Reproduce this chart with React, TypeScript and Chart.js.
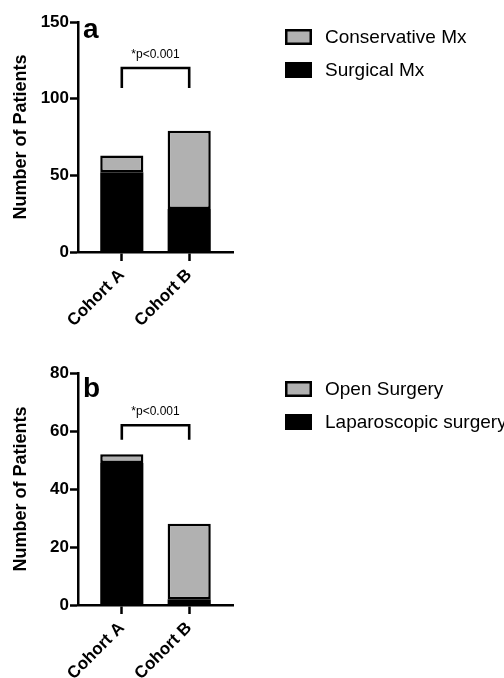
import React, { useEffect, useRef } from 'react';
import { Chart, registerables } from 'chart.js';

Chart.register(...registerables);

const FONT = 'Arial, "Liberation Sans", Helvetica, sans-serif';
const BLACK = '#000000';
const GRAY = '#b1b1b1';

// ---- data ----
const categories = ['Cohort A', 'Cohort B'];

// panel a
const surgicalMx = [52, 28];
const conservativeMx = [11, 51];
const yMaxA = 150;
const yStepA = 50;
const bracketA = [107, 120]; // [leg end, top]

// panel b
const laparoscopicSurgery = [49, 2];
const openSurgery = [3, 26];
const yMaxB = 80;
const yStepB = 20;
const bracketB = [57, 62];

const significanceLabel = '*p<0.001';
const yTitle = 'Number of Patients';

type PanelProps = {
  letter: string;
  bottomLabel: string;
  topLabel: string;
  bottomValues: number[];
  topValues: number[];
  yMax: number;
  yStep: number;
  bracket: number[];
  canvasHeight: number;
  padTop: number;
  xAxisHeight: number;
  letterDy: number;
  legendY: number;
  legendGap: number;
};

const decoPlugin = {
  id: 'panelDeco',
  afterDraw(chart: any, _args: any, opts: any) {
    const ctx = chart.ctx;
    const { left, top, right } = chart.chartArea;
    const xs = chart.scales.x;
    const ys = chart.scales.y;
    ctx.save();
    // panel letter
    ctx.fillStyle = BLACK;
    ctx.font = `bold 28px ${FONT}`;
    ctx.textAlign = 'left';
    ctx.textBaseline = 'alphabetic';
    ctx.fillText(opts.letter, left + 5, top + opts.letterDy);

    // significance bracket
    const x0 = xs.getPixelForValue(0);
    const x1 = xs.getPixelForValue(categories.length - 1);
    const yTop = ys.getPixelForValue(opts.bracket[1]);
    const yEnd = ys.getPixelForValue(opts.bracket[0]);
    ctx.lineWidth = 2.6;
    ctx.strokeStyle = BLACK;
    ctx.lineJoin = 'miter';
    ctx.lineCap = 'butt';
    ctx.beginPath();
    ctx.moveTo(x0, yEnd);
    ctx.lineTo(x0, yTop);
    ctx.lineTo(x1, yTop);
    ctx.lineTo(x1, yEnd);
    ctx.stroke();
    ctx.font = `12px ${FONT}`;
    ctx.textAlign = 'center';
    ctx.fillText(opts.text, (x0 + x1) / 2, yTop - 10);

    // legend (reverse dataset order)
    const items = chart.data.datasets.slice().reverse();
    items.forEach((ds: any, i: number) => {
      const cy = opts.legendY + i * opts.legendGap;
      const bx = right + 52;
      ctx.fillStyle = ds.backgroundColor;
      ctx.fillRect(bx, cy - 8, 27, 16);
      ctx.lineWidth = 2.5;
      ctx.strokeStyle = BLACK;
      ctx.strokeRect(bx + 1.25, cy - 6.75, 24.5, 13.5);
      ctx.fillStyle = BLACK;
      ctx.font = `19px ${FONT}`;
      ctx.textAlign = 'left';
      ctx.textBaseline = 'middle';
      ctx.fillText(ds.label, right + 92, cy + 1);
    });
    ctx.restore();
  },
};

function Panel(p: PanelProps) {
  const ref = useRef<HTMLCanvasElement | null>(null);
  useEffect(() => {
    if (!ref.current) return;
    const toPts = (vals: number[]) => vals.map((v, i) => ({ x: i, y: v }));
    const chart = new Chart(ref.current, {
      type: 'bar',
      data: {
        datasets: [
          {
            label: p.bottomLabel,
            data: toPts(p.bottomValues),
            backgroundColor: BLACK,
            borderColor: BLACK,
            borderWidth: 0,
            stack: 's',
          },
          {
            label: p.topLabel,
            data: toPts(p.topValues),
            backgroundColor: GRAY,
            borderColor: BLACK,
            borderWidth: 2.5,
            borderSkipped: false,
            stack: 's',
          },
        ],
      } as any,
      options: {
        responsive: false,
        animation: false,
        devicePixelRatio: 1,
        categoryPercentage: 1,
        barPercentage: 0.64,
        layout: { padding: { left: 0, right: 271, top: p.padTop, bottom: 0 } },
        plugins: {
          legend: { display: false },
          tooltip: { enabled: false },
          panelDeco: {
            letter: p.letter,
            bracket: p.bracket,
            text: significanceLabel,
            letterDy: p.letterDy,
            legendY: p.legendY,
            legendGap: p.legendGap,
          },
        } as any,
        scales: {
          x: {
            type: 'linear',
            offset: false,
            min: -0.65,
            max: categories.length - 1 + 0.65,
            afterBuildTicks: (scale: any) => {
              scale.ticks = categories.map((_, i) => ({ value: i }));
            },
            afterFit: (scale: any) => {
              scale.height = p.xAxisHeight;
            },
            ticks: {
              callback: (v: any) => categories[Math.round(Number(v))],
              minRotation: 45,
              maxRotation: 45,
              autoSkip: false,
              padding: 4,
              color: BLACK,
              font: { family: FONT, size: 17, weight: 'bold' },
            },
            grid: {
              offset: false,
              drawOnChartArea: false,
              drawTicks: true,
              tickLength: 9,
              tickWidth: 2.5,
              tickColor: BLACK,
            },
            border: { display: true, color: BLACK, width: 2.5 },
          },
          y: {
            stacked: true,
            min: 0,
            max: p.yMax,
            afterFit: (scale: any) => {
              scale.width = 78;
            },
            ticks: {
              stepSize: p.yStep,
              padding: 1,
              color: BLACK,
              font: { family: FONT, size: 17, weight: 'bold' },
            },
            grid: {
              drawOnChartArea: false,
              drawTicks: true,
              tickLength: 8,
              tickWidth: 2.5,
              tickColor: BLACK,
            },
            border: { display: true, color: BLACK, width: 2.5 },
            title: {
              display: true,
              text: yTitle,
              color: BLACK,
              padding: { top: 10, bottom: 0 },
              font: { family: FONT, size: 18, weight: 'bold' },
            },
          },
        } as any,
      },
      plugins: [decoPlugin as any],
    });
    return () => chart.destroy();
  }, []);
  return (
    <canvas
      ref={ref}
      width={504}
      height={p.canvasHeight}
      style={{ display: 'block', width: 504, height: p.canvasHeight }}
    />
  );
}

export default function App() {
  return (
    <div style={{ position: 'absolute', left: 0, top: 0, width: 504, height: 678, background: '#fff', overflow: 'hidden' }}>
      <Panel
        letter="a"
        bottomLabel="Surgical Mx"
        topLabel="Conservative Mx"
        bottomValues={surgicalMx}
        topValues={conservativeMx}
        yMax={yMaxA}
        yStep={yStepA}
        bracket={bracketA}
        canvasHeight={340}
        padTop={22}
        xAxisHeight={88}
        letterDy={16}
        legendY={37}
        legendGap={33}
      />
      <Panel
        letter="b"
        bottomLabel="Laparoscopic surgery"
        topLabel="Open Surgery"
        bottomValues={laparoscopicSurgery}
        topValues={openSurgery}
        yMax={yMaxB}
        yStep={yStepB}
        bracket={bracketB}
        canvasHeight={338}
        padTop={33}
        xAxisHeight={73}
        letterDy={24}
        legendY={49}
        legendGap={33}
      />
    </div>
  );
}
